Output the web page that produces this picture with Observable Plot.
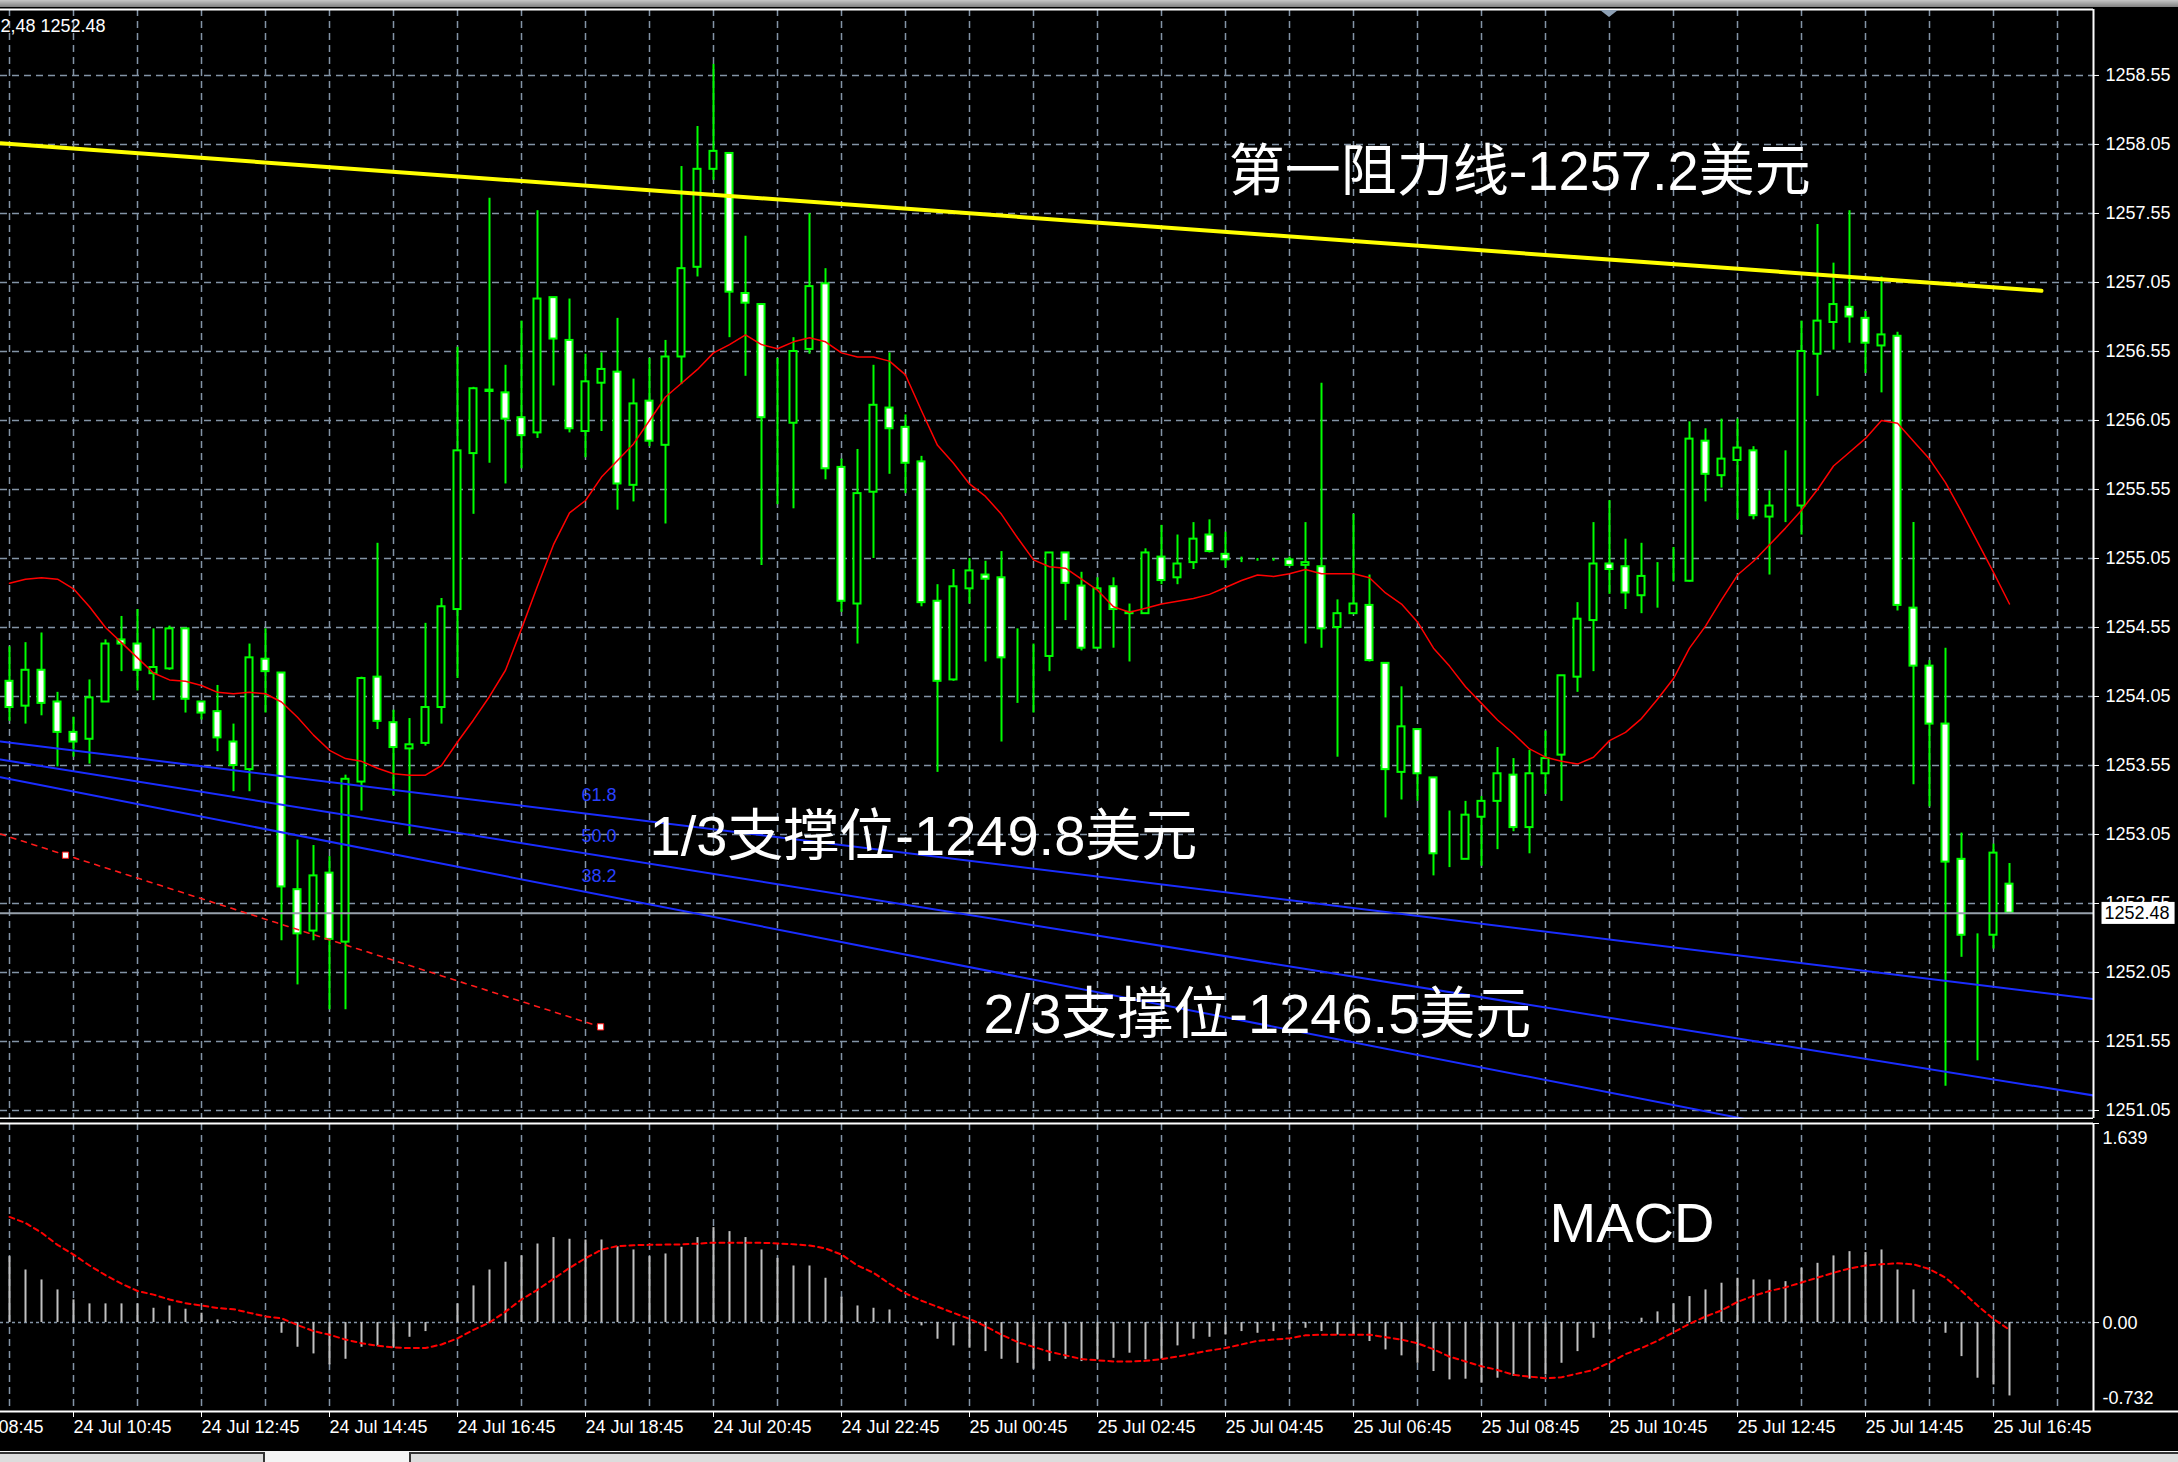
<!DOCTYPE html>
<html><head><meta charset="utf-8">
<script src="https://cdn.jsdelivr.net/npm/d3@7"></script>
<script src="https://cdn.jsdelivr.net/npm/@observablehq/plot@0.6"></script>
<style>
html,body{margin:0;padding:0;background:#000;}
#wrap{position:relative;width:2178px;height:1462px;background:#000;overflow:hidden;}
#main{position:absolute;left:0;top:0;}
#macd{position:absolute;left:0;top:1119px;}
#topbar{position:absolute;left:0;top:0;width:2178px;height:7px;background:linear-gradient(#c6c6c6,#808080);z-index:5;}
#bottombar{position:absolute;left:0;top:1451px;width:2178px;height:11px;background:#f4f4f4;z-index:5;}
.tab{position:absolute;top:1px;height:10px;background:#dcdcdc;border-top:2px solid #333;border-right:2px solid #333;}
</style></head>
<body>
<div id="wrap">
  <div id="topbar"></div>
  <div id="main"></div>
  <div id="macd"></div>
  <div id="bottombar"><div class="tab" style="left:0;width:263px"></div><div class="tab" style="left:409px;width:1769px;border-left:2px solid #333"></div></div>
</div>
<script>
// ---------------- DATA ----------------
const open = [1254.16,1253.98,1254.24,1254.01,1253.79,1253.74,1254.01,1254.46,1254.43,1254.215,
1254.25,1254.54,1254.01,1253.94,1253.72,1253.52,1254.32,1254.22,1252.65,1252.35,
1252.77,1252.27,1253.43,1254.19,1253.86,1253.67,1253.71,1253.97,1254.68,1255.81,
1256.26,1256.25,1256.07,1255.96,1256.94,1256.63,1255.97,1256.32,1256.40,1255.58,
1256.19,1255.87,1256.51,1257.16,1257.87,1257.985,1256.97,1256.89,1256.05,1256.03,
1256.565,1257.04,1255.71,1254.72,1255.53,1256.14,1256.00,1255.75,1254.74,1254.17,
1254.83,1254.93,1254.91,1254.33,1254.33,1254.34,1255.09,1254.85,1254.40,1254.845,
1254.65,1254.65,1255.06,1254.91,1255.02,1255.22,1255.08,1255.04,1255.04,1255.04,
1255.04,1255.00,1254.99,1254.55,1254.65,1254.71,1254.29,1253.50,1253.81,1253.46,
1252.90,1252.87,1253.175,1253.29,1253.48,1253.10,1253.49,1253.625,1254.19,1254.60,
1255.01,1254.99,1254.78,1254.91,1254.91,1254.885,1255.90,1255.65,1255.76,1255.83,
1255.35,1255.43,1255.43,1256.53,1256.76,1256.87,1256.79,1256.59,1256.66,1254.69,
1254.27,1253.85,1252.87,1252.32,1252.32,1252.69];
const high = [1254.41,1254.44,1254.51,1254.08,1253.90,1254.17,1254.46,1254.63,1254.68,1254.54,
1254.56,1254.54,1254.01,1254.13,1253.85,1254.43,1254.54,1254.22,1253.01,1252.97,
1252.89,1253.48,1254.19,1255.16,1253.95,1253.89,1254.58,1254.76,1256.58,1256.29,
1257.66,1256.45,1256.77,1257.57,1256.94,1256.93,1256.53,1256.54,1256.79,1256.35,
1256.50,1256.63,1257.89,1258.18,1258.63,1257.985,1257.385,1256.89,1256.50,1256.65,
1257.55,1257.15,1255.77,1255.84,1256.45,1256.54,1256.09,1255.79,1254.86,1254.97,
1255.05,1255.03,1255.10,1254.54,1254.43,1255.09,1255.09,1254.95,1254.91,1254.91,
1254.72,1255.12,1255.29,1255.22,1255.31,1255.33,1255.24,1255.06,1255.05,1255.05,
1255.06,1255.31,1256.32,1254.75,1255.37,1254.93,1254.29,1254.12,1253.81,1253.46,
1253.22,1253.29,1253.325,1253.68,1253.60,1253.66,1253.80,1254.20,1254.73,1255.31,
1255.47,1255.19,1255.16,1255.02,1255.13,1256.04,1255.99,1256.06,1256.06,1255.86,
1255.54,1255.83,1256.77,1257.47,1257.19,1257.57,1256.84,1257.09,1256.69,1255.31,
1254.31,1254.40,1253.06,1252.33,1252.98,1252.84];
const low = [1253.87,1253.85,1253.91,1253.54,1253.61,1253.56,1254.01,1254.23,1254.09,1254.02,
1254.24,1253.93,1253.88,1253.65,1253.36,1253.36,1253.93,1252.28,1251.96,1252.28,
1251.78,1251.78,1253.22,1253.81,1253.33,1253.05,1253.69,1253.85,1254.18,1255.37,
1255.74,1255.59,1255.70,1255.92,1256.30,1255.96,1255.78,1255.97,1255.40,1255.46,
1255.86,1255.30,1256.31,1257.09,1257.79,1256.65,1256.37,1255.00,1255.44,1255.41,
1256.53,1255.62,1254.66,1254.43,1255.05,1255.66,1255.52,1254.70,1253.50,1254.16,
1254.72,1254.30,1253.72,1254.00,1253.93,1254.23,1254.60,1254.38,1254.40,1254.40,
1254.30,1254.65,1254.86,1254.86,1254.97,1255.09,1254.98,1255.02,1255.03,1255.03,
1254.99,1254.43,1254.40,1253.61,1254.65,1254.30,1253.17,1253.30,1253.29,1252.75,
1252.81,1252.87,1252.82,1252.94,1253.07,1252.91,1253.34,1253.29,1254.08,1254.23,
1254.79,1254.68,1254.65,1254.69,1254.88,1254.88,1255.46,1255.56,1255.33,1255.33,
1254.93,1255.31,1255.22,1256.225,1256.56,1256.61,1256.39,1256.25,1254.67,1253.41,
1253.25,1251.225,1252.16,1251.41,1252.22,1252.48];
const close = [1253.97,1254.24,1254.00,1253.79,1253.72,1254.04,1254.43,1254.43,1254.24,1254.26,
1254.54,1254.03,1253.93,1253.75,1253.55,1254.33,1254.23,1252.67,1252.33,1252.75,
1252.29,1253.45,1254.18,1253.87,1253.68,1253.70,1253.97,1254.70,1255.83,1256.28,
1256.27,1256.06,1255.94,1256.93,1256.64,1255.99,1256.33,1256.42,1255.59,1256.17,
1255.90,1256.51,1257.15,1257.87,1258.00,1256.98,1256.90,1256.07,1256.05,1256.55,
1257.02,1255.70,1254.74,1255.52,1256.16,1255.99,1255.74,1254.73,1254.16,1254.845,
1254.96,1254.90,1254.33,1254.33,1254.33,1255.09,1254.87,1254.40,1254.83,1254.68,
1254.66,1255.09,1254.89,1255.01,1255.19,1255.10,1255.04,1255.04,1255.04,1255.04,
1255.00,1255.02,1254.54,1254.65,1254.72,1254.31,1253.52,1253.83,1253.49,1252.91,
1252.90,1253.19,1253.29,1253.49,1253.10,1253.49,1253.60,1254.20,1254.61,1255.01,
1254.97,1254.80,1254.92,1254.91,1254.91,1255.915,1255.66,1255.77,1255.85,1255.36,
1255.43,1255.43,1256.55,1256.77,1256.89,1256.80,1256.61,1256.67,1254.71,1254.27,
1253.85,1252.85,1252.32,1252.32,1252.915,1252.48];
// red moving average
const ma = [1254.87,1254.90,1254.91,1254.90,1254.83,1254.70,1254.55,1254.44,1254.33,1254.22,
1254.17,1254.16,1254.13,1254.08,1254.07,1254.08,1254.07,1254.01,1253.90,1253.77,
1253.66,1253.60,1253.58,1253.53,1253.49,1253.48,1253.48,1253.55,1253.72,1253.88,
1254.05,1254.24,1254.54,1254.85,1255.15,1255.38,1255.47,1255.64,1255.76,1255.88,
1256.05,1256.22,1256.32,1256.42,1256.54,1256.60,1256.67,1256.60,1256.57,1256.62,
1256.65,1256.62,1256.54,1256.51,1256.51,1256.48,1256.38,1256.12,1255.87,1255.74,
1255.59,1255.50,1255.37,1255.20,1255.04,1254.99,1254.98,1254.90,1254.82,1254.70,
1254.66,1254.69,1254.72,1254.74,1254.76,1254.79,1254.84,1254.89,1254.93,1254.92,
1254.94,1254.97,1254.94,1254.94,1254.94,1254.91,1254.80,1254.72,1254.59,1254.40,
1254.27,1254.12,1254.00,1253.88,1253.78,1253.67,1253.61,1253.58,1253.56,1253.61,
1253.73,1253.79,1253.89,1254.03,1254.18,1254.40,1254.56,1254.75,1254.93,1255.03,
1255.15,1255.27,1255.40,1255.55,1255.72,1255.82,1255.92,1256.05,1256.03,1255.90,
1255.77,1255.60,1255.39,1255.17,1254.95,1254.72];
// MACD histogram and signal
const macdHist = [0.543,0.433,0.351,0.269,0.187,0.154,0.154,0.154,0.154,0.118,
0.137,0.11,0.077,0.022,0.008,0.003,-0.01,-0.088,-0.203,-0.258,
-0.348,-0.302,-0.203,-0.198,-0.211,-0.121,-0.074,0.0,0.154,0.302,
0.433,0.497,0.549,0.647,0.70,0.686,0.68,0.68,0.625,0.598,
0.543,0.565,0.62,0.70,0.782,0.749,0.70,0.598,0.529,0.466,
0.466,0.365,0.209,0.137,0.118,0.104,0.01,-0.027,-0.137,-0.192,
-0.211,-0.239,-0.302,-0.335,-0.384,-0.321,-0.302,-0.321,-0.307,-0.294,
-0.252,-0.307,-0.302,-0.192,-0.137,-0.121,-0.102,-0.074,-0.088,-0.074,
-0.060,-0.047,-0.074,-0.102,-0.102,-0.156,-0.225,-0.274,-0.335,-0.403,
-0.472,-0.466,-0.499,-0.458,-0.444,-0.466,-0.431,-0.335,-0.239,-0.129,
-0.06,0.005,0.036,0.088,0.154,0.214,0.269,0.324,0.365,0.351,
0.351,0.337,0.447,0.488,0.549,0.584,0.576,0.598,0.433,0.269,
0.02,-0.088,-0.280,-0.458,-0.513,-0.604];
const macdSignal = [0.87,0.82,0.74,0.64,0.56,0.47,0.39,0.32,0.26,0.23,
0.19,0.16,0.14,0.12,0.11,0.08,0.05,0.035,-0.02,-0.07,
-0.10,-0.14,-0.17,-0.19,-0.205,-0.21,-0.21,-0.18,-0.13,-0.06,
0.00,0.09,0.19,0.27,0.36,0.45,0.53,0.60,0.63,0.637,
0.64,0.642,0.644,0.65,0.658,0.658,0.658,0.657,0.652,0.645,
0.635,0.61,0.56,0.47,0.41,0.32,0.24,0.18,0.13,0.08,
0.03,-0.03,-0.10,-0.16,-0.20,-0.24,-0.27,-0.30,-0.31,-0.32,
-0.32,-0.315,-0.30,-0.28,-0.255,-0.23,-0.21,-0.18,-0.15,-0.14,
-0.13,-0.105,-0.10,-0.10,-0.10,-0.10,-0.12,-0.14,-0.17,-0.22,
-0.28,-0.32,-0.36,-0.39,-0.43,-0.445,-0.458,-0.45,-0.42,-0.39,
-0.33,-0.26,-0.21,-0.15,-0.08,-0.01,0.05,0.10,0.17,0.22,
0.26,0.29,0.33,0.37,0.41,0.445,0.47,0.48,0.488,0.48,
0.44,0.37,0.26,0.14,0.03,-0.06];
// axis ticks / labels
const priceTicks = [1258.55,1258.05,1257.55,1257.05,1256.55,1256.05,1255.55,1255.05,1254.55,1254.05,1253.55,1253.05,1252.55,1252.05,1251.55,1251.05];
const timeLabels = ["24 Jul 08:45","24 Jul 10:45","24 Jul 12:45","24 Jul 14:45","24 Jul 16:45","24 Jul 18:45","24 Jul 20:45","24 Jul 22:45","25 Jul 00:45","25 Jul 02:45","25 Jul 04:45","25 Jul 06:45","25 Jul 08:45","25 Jul 10:45","25 Jul 12:45","25 Jul 14:45","25 Jul 16:45"];
const timeLabelIndex = [-4,4,12,20,28,36,44,52,60,68,76,84,92,100,108,116,124]; // candle index of each label
const hourGridIndex = [0,4,8,12,16,20,24,28,32,36,40,44,48,52,56,60,64,68,72,76,80,84,88,92,96,100,104,108,112,116,120,124,128];
const macdTicks = [1.639, 0, -0.732];
const lastPrice = 1252.48;
// drawn objects (candle index, price)
const resistLine = [{i:-0.5625, p:1258.058},{i:127.0, p:1256.99}];
const fanNames = ["61.8","50.0","38.2"];
const fanStart = [1253.724, 1253.593, 1253.465];
const fanEnd = [1251.857, 1251.159, 1250.493];
const fanLabelPrice = [1253.333, 1253.04, 1252.745];
const redLine = [{i:-0.5625, p:1253.053},{i:36.94, p:1251.656}];
const redMarks = [{i:3.5, p:1252.90},{i:36.94, p:1251.656}];
const notes = [
  {i:76.2, p:1257.847, text:"第一阻力线-1257.2美元"},
  {i:40.0, p:1253.028, text:"1/3支撑位-1249.8美元"},
  {i:60.875, p:1251.738, text:"2/3支撑位-1246.5美元"}
];
const macdNote = {i:96.25, v:0.807, text:"MACD"};

// ---------------- CHART ----------------
const LIME = "#00ff00", GRID = "#8394a6", BLUE = "#1a2dff";
const FONT = "'Liberation Sans', Arial, sans-serif";
const N = open.length;
const candles = d3.range(N).map(i => ({i, o: open[i], h: high[i], l: low[i], c: close[i]}));
const xDomain = [-0.5625, 130.25];
const yDomain = [1250.992, 1259.028];
const fanSeg = fanNames.flatMap((n, k) => [{n, i: xDomain[0], p: fanStart[k]}, {n, i: xDomain[1], p: fanEnd[k]}]);
const fanLabels = fanNames.map((n, k) => ({n, i: 35.75, p: fanLabelPrice[k]}));

const main = Plot.plot({
  width: 2178, height: 1119,
  marginTop: 9, marginBottom: 1, marginLeft: 0, marginRight: 85,
  style: {background: "black", color: "white", fontFamily: FONT, fontSize: "18px", overflow: "hidden"},
  x: {domain: xDomain, axis: null},
  y: {domain: yDomain, axis: "right", ticks: priceTicks, tickFormat: d => d.toFixed(2), tickSize: 5, tickPadding: 7, label: null},
  color: {type: "identity"},
  marks: [
    Plot.ruleX(hourGridIndex, {x: d => d, stroke: GRID, strokeWidth: 1.5, strokeDasharray: "7,5"}),
    Plot.ruleY(priceTicks, {y: d => d, stroke: GRID, strokeWidth: 1.5, strokeDasharray: "7,5"}),
    Plot.ruleX(candles, {x: "i", y1: "l", y2: "h", stroke: LIME, strokeWidth: 2}),
    Plot.rect(candles, {x1: d => d.i - 0.22, x2: d => d.i + 0.22, y1: d => Math.min(d.o, d.c), y2: d => Math.max(d.o, d.c),
      fill: d => d.c < d.o ? "white" : "black", stroke: LIME, strokeWidth: 2}),
    Plot.line(ma, {x: (d, i) => i, y: d => d, stroke: "#ff0000", strokeWidth: 1.5}),
    Plot.ruleY([lastPrice], {stroke: "#97a1ab", strokeWidth: 2}),
    Plot.line(fanSeg, {x: "i", y: "p", z: "n", stroke: BLUE, strokeWidth: 2, clip: true}),
    Plot.line(resistLine, {x: "i", y: "p", stroke: "#ffff00", strokeWidth: 4}),
    Plot.line(redLine, {x: "i", y: "p", stroke: "#ff1a1a", strokeWidth: 1.6, strokeDasharray: "5,6"}),
    Plot.dot(redMarks, {x: "i", y: "p", symbol: "square", r: 3.5, fill: "white", stroke: "#ff1a1a", strokeWidth: 1}),
    Plot.text(fanLabels, {x: "i", y: "p", text: "n", textAnchor: "start", fill: "#2a40ff", fontSize: 18}),
    Plot.text(notes, {x: "i", y: "p", text: "text", textAnchor: "start", fill: "white", fontSize: 56, fontFamily: "'Liberation Sans', 'Noto Sans CJK SC', sans-serif"}),
    Plot.text(["2,48 1252.48"], {frameAnchor: "top-left", dy: 10, textAnchor: "start", fill: "white", text: d => d}),
    Plot.text([lastPrice], {x: xDomain[1], y: d => d, dx: 11, textAnchor: "start", fill: "black", text: d => d.toFixed(2)}),
    Plot.ruleX([xDomain[1]], {stroke: "white", strokeWidth: 2}),
    Plot.ruleY([yDomain[1]], {stroke: "white", strokeWidth: 2}),
    Plot.ruleY([yDomain[0]], {stroke: "white", strokeWidth: 2})
  ]
});
document.getElementById("main").appendChild(main);

// white box behind the current-price label
d3.select(main).selectAll("text").filter(function() { return this.textContent === "1252.48"; }).each(function() {
  const b = this.getBBox();
  const r = document.createElementNS("http://www.w3.org/2000/svg", "rect");
  r.setAttribute("x", b.x - 3); r.setAttribute("y", b.y - 1);
  r.setAttribute("width", b.width + 8); r.setAttribute("height", b.height + 2);
  r.setAttribute("fill", "white");
  const t = this.getAttribute("transform"); if (t) r.setAttribute("transform", t);
  this.parentNode.insertBefore(r, this);
});
// chart-shift marker (small triangle at the top)
{
  const sx = main.scale("x").apply(100);
  d3.select(main).append("path").attr("d", `M${sx - 9},10 L${sx + 9},10 L${sx},17 Z`).attr("fill", "#8ea0b4");
}

const macd = Plot.plot({
  width: 2178, height: 343,
  marginTop: 4, marginBottom: 51, marginLeft: 0, marginRight: 85,
  style: {background: "black", color: "white", fontFamily: FONT, fontSize: "18px", overflow: "hidden"},
  x: {domain: xDomain, axis: "bottom", ticks: timeLabelIndex, tickFormat: () => "", tickSize: 6, label: null},
  y: {domain: [-0.732, 1.639], axis: "right", ticks: macdTicks, tickFormat: () => "", tickSize: 5, label: null},
  marks: [
    Plot.ruleX(hourGridIndex, {x: d => d, stroke: GRID, strokeWidth: 1.5, strokeDasharray: "7,5"}),
    Plot.ruleY([0], {stroke: GRID, strokeWidth: 1.5, strokeDasharray: "3,3"}),
    Plot.ruleX(macdHist, {x: (d, i) => i, y1: 0, y2: d => d, stroke: "#c0c0c0", strokeWidth: 2}),
    Plot.line(macdSignal, {x: (d, i) => i, y: d => d, stroke: "#ff0000", strokeWidth: 2, strokeDasharray: "5,4"}),
    Plot.text([macdNote], {x: "i", y: "v", text: "text", textAnchor: "start", fill: "white", fontSize: 56}),
    Plot.text(timeLabels, {x: (d, k) => timeLabelIndex[k], text: d => d, frameAnchor: "bottom", dy: 21, textAnchor: "start", fill: "white"}),
    Plot.text([macdTicks[0]], {y: d => d, frameAnchor: "right", dx: 9, dy: 15, textAnchor: "start", fill: "white", text: d => d.toFixed(3)}),
    Plot.text([macdTicks[1]], {y: d => d, frameAnchor: "right", dx: 9, dy: 1, textAnchor: "start", fill: "white", text: d => d.toFixed(2)}),
    Plot.text([macdTicks[2]], {y: d => d, frameAnchor: "right", dx: 9, dy: -13, textAnchor: "start", fill: "white", text: d => d.toFixed(3)}),
    Plot.ruleX([xDomain[1]], {stroke: "white", strokeWidth: 2}),
    Plot.ruleY([1.639], {stroke: "white", strokeWidth: 2}),
    Plot.ruleY([-0.732], {x1: -20, x2: 136, stroke: "white", strokeWidth: 2})
  ]
});
document.getElementById("macd").appendChild(macd);
</script>
</body></html>
